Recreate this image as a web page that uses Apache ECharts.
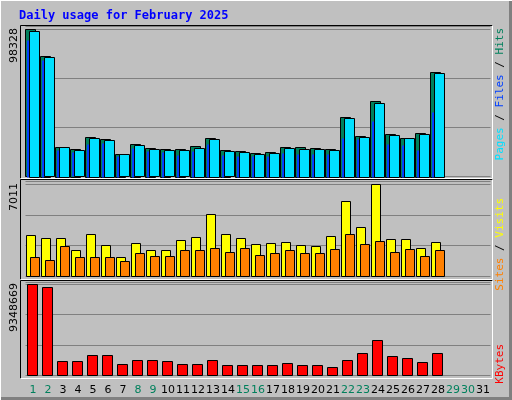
<!DOCTYPE html>
<html><head><meta charset="utf-8">
<script src="https://cdn.jsdelivr.net/npm/echarts@6/dist/echarts.min.js"></script>
<style>html,body{margin:0;padding:0;background:#c0c0c0}#c{width:512px;height:400px}</style>
</head><body><div id="c"></div>
<script>
const days = Array.from({length:31},(_,i)=>String(i+1));
const weekendDays = [1,2,8,9,15,16,22,23,29,30];
const hits = [98328,80530,19800,18460,26470,25140,15130,21800,19130,18460,18460,20470,25800,17800,17130,15790,16460,19800,19800,19130,18460,39820,27140,50500,28470,25800,29140,69850];
const pages = [97440,79640,19800,17570,25800,24470,14900,20910,18240,17570,17570,19130,25140,16900,16460,15130,15790,19130,18460,18460,17800,39150,26470,49160,27810,25800,28470,69180];
const files = [91210,77860,17800,16240,21800,22470,13790,19130,17130,16460,14460,17130,21800,14460,13790,14010,13790,15790,15130,15130,15130,25800,25140,37150,21800,21130,17800,43160];
const visits = [3113,2885,2885,1974,3189,2354,1443,2506,1974,1974,2734,2961,4708,3189,2885,2430,2506,2582,2354,2278,3037,5695,3721,7011,2810,2810,2126,2582];
const sites = [1443,1215,2278,1443,1443,1443,1139,1746,1519,1519,1974,1974,2126,1822,2126,1595,1746,1974,1746,1746,2050,3189,2430,2658,1822,2050,1519,1974];
const kbytes = [9348669,9041500,1467100,1467100,2081300,2081300,1160000,1569500,1569500,1467100,1160000,1160000,1569500,1057700,1057700,1057700,1057700,1262400,1057700,1057700,853000,1569500,2286000,3616600,1978900,1774200,1364800,2286000];
const maxLabels = ['98328','7011','9348669'];

const chart = echarts.init(document.getElementById('c'));
function barSeries(data, axis, dx, w, color, stroke){
  return {type:'custom', xAxisIndex:axis, yAxisIndex:axis, data:data.map((v,i)=>[i,v]),
    renderItem:(p,api)=>{const t=api.coord([api.value(0),api.value(1)]);const b=api.coord([api.value(0),0]);
      return {type:'rect',shape:{x:Math.round(t[0]+dx-w/2)+(stroke?0.5:0),y:Math.round(t[1])+0.5,width:w,height:Math.round(b[1]-t[1])},
        style:{fill:color,stroke:stroke?'#000':null,lineWidth:stroke?1:0}};}};
}
const grids=[{left:25.5,width:465,top:26,height:150.7},{left:25.5,width:465,top:181,height:95.3},{left:25.5,width:465,top:282,height:93.3}];
const ymax=[[100530,32776],[7239,2337],[9553460,3116223]];
const xAxes=grids.map((g,i)=>({type:'category',gridIndex:i,data:days,axisLine:{show:false},axisTick:{show:false},
  axisLabel:{show:i===2,interval:0,margin:9,fontSize:11,fontFamily:'DejaVu Sans',
    color:(v)=>weekendDays.includes(+v)?'#00805c':'#000'}}));
const yAxes=grids.map((g,i)=>({type:'value',gridIndex:i,min:0,max:ymax[i][0],interval:ymax[i][1],axisLabel:{show:false},
  axisLine:{show:false},axisTick:{show:false},splitLine:{lineStyle:{color:'#808080',width:1}}}));
function panel(y1,y2){return [
  {type:'line',shape:{x1:20.5,y1:y1+0.5,x2:492.5,y2:y1+0.5},style:{stroke:'#000',lineWidth:1}},
  {type:'line',shape:{x1:20.5,y1:y1+0.5,x2:20.5,y2:y2+0.5},style:{stroke:'#000',lineWidth:1}},
  {type:'line',shape:{x1:20.5,y1:y2+0.5,x2:492.5,y2:y2+0.5},style:{stroke:'#fff',lineWidth:1}},
  {type:'line',shape:{x1:492.5,y1:y1+0.5,x2:492.5,y2:y2+0.5},style:{stroke:'#fff',lineWidth:1}}];}
const mono={fontFamily:'DejaVu Sans Mono',fontSize:11};
const rotLabel=(x,y,t)=>({type:'text',x:x,y:y,rotation:Math.PI/2,style:{text:t,font:'11px DejaVu Sans',fill:'#000',align:'right',verticalAlign:'middle'}});
chart.setOption({
  animation:false, backgroundColor:'#c0c0c0',
  grid:grids, xAxis:xAxes, yAxis:yAxes,
  series:[
    barSeries(hits,0,-3,10,'#00805c',true),
    barSeries(files,0,-5,2,'#0040ff',false),
    barSeries(pages,0,1,10,'#00e0ff',true),
    barSeries(visits,1,-3,9,'#ffff00',true),
    barSeries(sites,1,1,9,'#ff8000',true),
    barSeries(kbytes,2,-1,10,'#ff0000',true)
  ],
  graphic:[
    {type:'line',shape:{x1:0,y1:398.5,x2:512,y2:398.5},style:{stroke:'#808080',lineWidth:3}},
    {type:'line',shape:{x1:510.5,y1:0,x2:510.5,y2:400},style:{stroke:'#808080',lineWidth:3}},
    {type:'line',shape:{x1:0,y1:0.5,x2:512,y2:0.5},style:{stroke:'#fff',lineWidth:1}},
    {type:'line',shape:{x1:0.5,y1:0,x2:0.5,y2:400},style:{stroke:'#fff',lineWidth:1}},
    ...panel(25,178),...panel(179,279),...panel(280,378),
    {type:'text',x:19,y:16,style:{text:'Daily usage for February 2025',font:'bold 12px DejaVu Sans Mono',fill:'#0000ff',verticalAlign:'middle'}},
    rotLabel(14,28,maxLabels[0]),rotLabel(14,183,maxLabels[1]),rotLabel(14,283,maxLabels[2]),
    {type:'text',x:500,y:28,rotation:Math.PI/2,style:{text:'{p|Pages}{s| / }{f|Files}{s| / }{h|Hits}',rich:{p:{...mono,fill:'#00e0ff'},f:{...mono,fill:'#0040ff'},h:{...mono,fill:'#00805c'},s:{...mono,fill:'#000'}},align:'right',verticalAlign:'middle'}},
    {type:'text',x:500,y:198,rotation:Math.PI/2,style:{text:'{a|Sites}{s| / }{b|Visits}',rich:{a:{...mono,fill:'#ff8000'},b:{...mono,fill:'#ffff00'},s:{...mono,fill:'#000'}},align:'right',verticalAlign:'middle'}},
    {type:'text',x:500,y:344,rotation:Math.PI/2,style:{text:'KBytes',font:'11px DejaVu Sans Mono',fill:'#ff0000',align:'right',verticalAlign:'middle'}}
  ]
});
</script></body></html>
